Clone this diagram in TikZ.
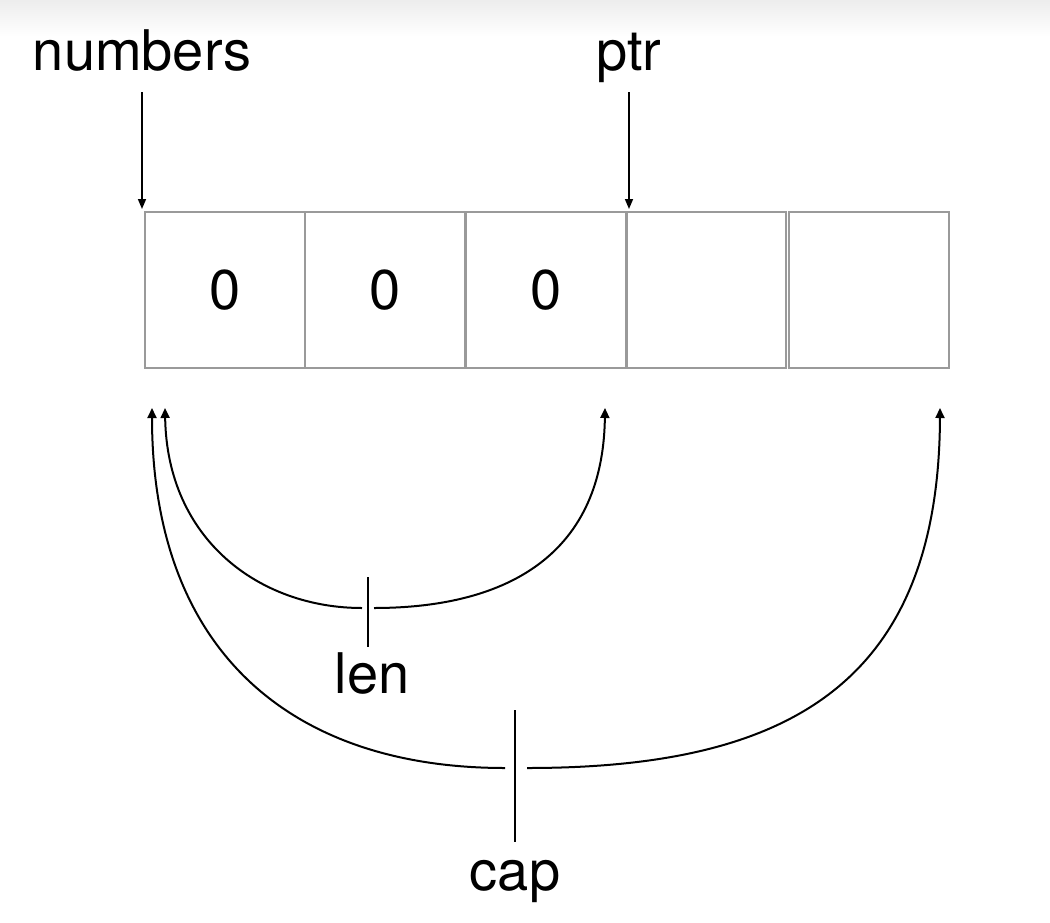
\documentclass[tikz,border=0pt]{standalone}
\usepackage{fontspec}
\setmainfont{TeX Gyre Heros}
\usetikzlibrary{arrows.meta}
\definecolor{cellgray}{HTML}{9A9A9A}
\definecolor{topgray}{HTML}{EDEDED}
\tikzset{
  cell/.style={draw=cellgray, line width=2pt, minimum height=156pt, inner sep=0pt,
               font=\fontsize{56}{60}\selectfont},
  lbl/.style={inner sep=0pt, anchor=base, font=\fontsize{56}{60}\selectfont},
  toparrow/.style={line width=1.5pt, -{Triangle[length=10pt,width=8pt]}},
  spanarrow/.style={line width=2pt, -{Triangle[length=10pt,width=9pt]}},
  tickline/.style={line width=2pt}
}
\begin{document}
\begin{tikzpicture}[x=1pt,y=-1pt]
  \useasboundingbox (0,0) rectangle (1050,922);
  \fill[white] (0,0) rectangle (1050,922);
  \shade[top color=topgray, bottom color=white] (0,0) rectangle (1050,36);

  % cells
  \node[cell, minimum width=160pt] (c1) at (225,290) {\raisebox{-3pt}{0}};
  \node[cell, minimum width=160pt] (c2) at (385,290) {\raisebox{-3pt}{0}};
  \node[cell, minimum width=160pt] (c3) at (546,290) {\raisebox{-3pt}{0}};
  \node[cell, minimum width=159pt] (c4) at (706.5,290) {};
  \node[cell, minimum width=160pt] (c5) at (869,290) {};

  % top labels and pointers
  \node[lbl] (numbers) at (142,70) {numbers};
  \node[lbl] (ptr) at (629,70) {ptr};
  \coordinate (numtop) at (142,92);
  \coordinate (ptrtop) at (629,92);
  \draw[toparrow, shorten >=2pt] (numtop) -- (numtop |- c1.north);
  \draw[toparrow, shorten >=2pt] (ptrtop) -- (ptrtop |- c4.north);

  % len span
  \coordinate (lenmid) at (368,608);
  \coordinate (lenL) at (165,408);
  \coordinate (lenR) at (605,408);
  \draw[spanarrow, shorten <=6pt] (lenmid) .. controls (260,608) and (167,540) .. (lenL);
  \draw[spanarrow, shorten <=6pt] (lenmid) .. controls (500,608) and (603,560) .. (lenR);
  \node[lbl] (len) at (372,693) {len};
  \coordinate (lentick) at (368,577);
  \draw[tickline] (lentick) -- ([yshift=5pt]lentick |- len.north);

  % cap span
  \coordinate (capmid) at (516,768);
  \coordinate (capL) at (152,408);
  \coordinate (capR) at (940,408);
  \draw[spanarrow, shorten <=11pt] (capmid) .. controls (290,768) and (152,650) .. (capL);
  \draw[spanarrow, shorten <=11pt] (capmid) .. controls (780,768) and (939,690) .. (capR);
  \node[lbl] (cap) at (515,890) {cap};
  \coordinate (captick) at (515,710);
  \draw[tickline] (captick) -- ([yshift=18pt]captick |- cap.north);
\end{tikzpicture}
\end{document}
